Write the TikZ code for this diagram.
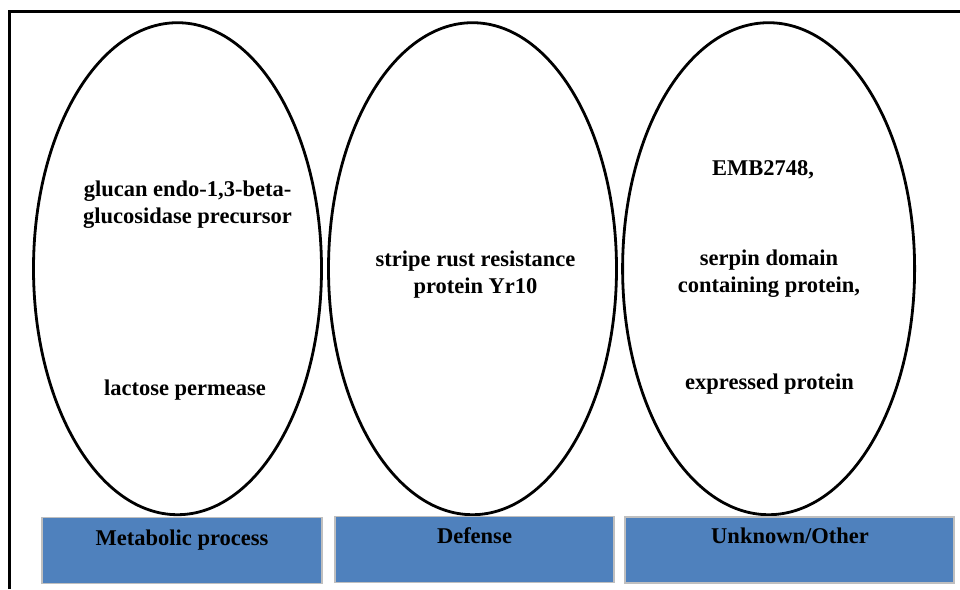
\documentclass[tikz,border=0pt]{standalone}
\usepackage{fontspec}
\setmainfont{Liberation Serif}
\usetikzlibrary{shapes.geometric}

\definecolor{boxblue}{HTML}{4F81BD}

\begin{document}
\begin{tikzpicture}[
  x=1pt, y=-1pt,
  font=\fontsize{22.5}{27}\selectfont\bfseries,
  group/.style={draw, ellipse, line width=2.8pt, inner sep=0pt, minimum height=492pt},
  label/.style={align=center, anchor=base},
  category/.style={draw=black!25, line width=1.2pt, fill=boxblue, minimum height=66pt, inner sep=0pt}
]
\useasboundingbox (0,0) rectangle (960,589);

% frame
\draw[line width=3pt] (9.7,589) -- (9.7,11) -- (960,11);

% groups
\node[group, minimum width=288pt] (meta) at (177.5,268.7) {};
\node[group, minimum width=288pt] (def) at (472.5,268.7) {};
\node[group, minimum width=292pt] (unk) at (768.6,268.7) {};

% base anchor sits on the last line
\node[label] (glucan) at (187.5,223.5) {glucan endo-1,3-beta-\\glucosidase precursor};
\node[label] (lactose) at (185,395) {lactose permease};

\node[label] (yr10) at (475.5,293) {stripe rust resistance\\protein Yr10};

\node[label] (emb) at (763,175) {EMB2748,};
\node[label] (serpin) at (769,292) {serpin domain\\containing protein,};
\node[label] (expr) at (769.5,389) {expressed protein};

% categories
\node[category, minimum width=280pt] (metabox) at (182,550.5) {};
\node[category, minimum width=279pt] (defbox) at (474.5,549.5) {};
\node[category, minimum width=329pt] (unkbox) at (789.5,550) {};

\node[label] (metalab) at (182,545) {Metabolic process};
\node[label] (deflab) at (474.5,543) {Defense};
\node[label] (unklab) at (790,543) {Unknown/Other};

\end{tikzpicture}
\end{document}
